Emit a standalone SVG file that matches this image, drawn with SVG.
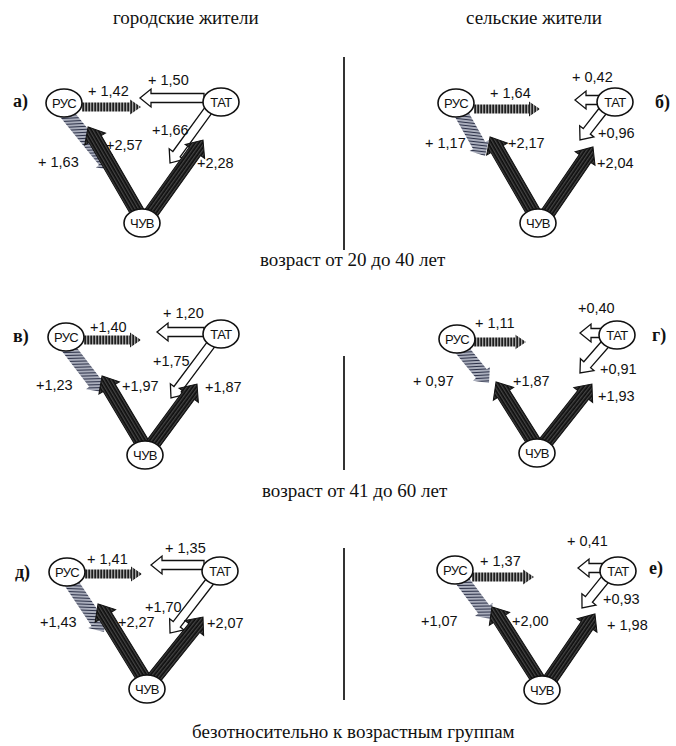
<svg xmlns="http://www.w3.org/2000/svg" width="676" height="746" viewBox="0 0 676 746">
<defs>
<pattern id="pd" patternUnits="userSpaceOnUse" width="4" height="3"><rect width="4" height="3" fill="#4a4a4a"/><line x1="0" y1="1.2" x2="4" y2="1.2" stroke="#0d0d0d" stroke-width="1.8"/></pattern>
<pattern id="pv" patternUnits="userSpaceOnUse" width="3" height="4"><rect width="3" height="4" fill="#b0b0b0"/><line x1="1.2" y1="0" x2="1.2" y2="4" stroke="#1e1e1e" stroke-width="1.8"/></pattern>
<pattern id="ps" patternUnits="userSpaceOnUse" width="6" height="3" patternTransform="rotate(-54)"><rect width="6" height="3" fill="#d4d7e2"/><line x1="0" y1="1.5" x2="6" y2="1.5" stroke="#2c3148" stroke-width="1.5"/></pattern>
</defs>
<style>
.d{fill:url(#pd);stroke:#111;stroke-width:1}
.h{fill:url(#pv);stroke:none}
.s{fill:url(#ps);stroke:none}
.w{fill:#fff;stroke:#111;stroke-width:1.3;stroke-linejoin:miter}
.n ellipse{fill:#fff;stroke:#111;stroke-width:1.6}
.n text{font-family:"Liberation Sans",Arial,sans-serif;font-size:13px;letter-spacing:-0.6px;fill:#111;text-anchor:middle}
.v{font-family:"Liberation Sans",Arial,sans-serif;font-size:14.5px;fill:#111}
.hd{font-family:"Liberation Serif","Times New Roman",serif;font-size:19px;fill:#111}
.pl{font-family:"Liberation Serif","Times New Roman",serif;font-size:18px;font-weight:bold;fill:#111}
.div{stroke:#333;stroke-width:2}
</style>
<rect width="676" height="746" fill="#fff"/>
<text class="hd" x="113" y="24">городские жители</text>
<text class="hd" x="466" y="24">сельские жители</text>
<text class="hd" x="260" y="266">возраст от 20 до 40 лет</text>
<text class="hd" x="262" y="497">возраст от 41 до 60 лет</text>
<text class="hd" x="192" y="738">безотносительно к возрастным группам</text>
<g id="dividers">
<line class="div" x1="344" y1="57" x2="344" y2="250"/>
<line class="div" x1="344" y1="356" x2="344" y2="470"/>
<line class="div" x1="344" y1="548" x2="344" y2="700"/>
</g>
<text class="pl" x="13" y="107">а)</text>
<text class="pl" x="655" y="108">б)</text>
<text class="pl" x="13" y="342">в)</text>
<text class="pl" x="652" y="341">г)</text>
<text class="pl" x="15" y="578">д)</text>
<text class="pl" x="649" y="574">е)</text>
<g id="connectors">
<!-- panel a -->
<polygon class="s" transform="translate(62,108) rotate(51.1)" points="0,-7 67.6,-7 67.6,-11 79.6,0 67.6,11 67.6,7 0,7"/>
<polygon class="w" transform="translate(204,98) rotate(180)" points="0,-4.5 53,-4.5 53,-9 64,0 53,9 53,4.5 0,4.5"/>
<polygon class="w" transform="translate(210,108) rotate(126)" points="0,-4.5 57,-4.5 57,-9 68,0 57,9 57,4.5 0,4.5"/>
<polygon class="h" transform="translate(82,107)" points="0,-4.5 48,-4.5 48,-7.5 59,0 48,7.5 48,4.5 0,4.5"/>
<polygon class="d" transform="translate(142,220) rotate(-120.1)" points="0,-7 93.5,-7 93.5,-12 107.5,0 93.5,12 93.5,7 0,7"/>
<polygon class="d" transform="translate(146,220) rotate(-54.5)" points="0,-7 84.2,-7 84.2,-12 98.2,0 84.2,12 84.2,7 0,7"/>
<text class="v" x="88" y="96">+ 1,42</text>
<text class="v" x="148" y="85">+ 1,50</text>
<text class="v" x="38" y="167">+ 1,63</text>
<text class="v" x="106" y="150">+2,57</text>
<text class="v" x="197" y="168">+2,28</text>
<text class="v" x="152" y="135">+1,66</text>
<!-- panel b -->
<polygon class="s" transform="translate(458,108) rotate(60.6)" points="0,-7 43.1,-7 43.1,-11 55.1,0 43.1,11 43.1,7 0,7"/>
<polygon class="w" transform="translate(608,100) rotate(180)" points="0,-4.5 22,-4.5 22,-9 33,0 22,9 22,4.5 0,4.5"/>
<polygon class="w" transform="translate(605,108) rotate(128)" points="0,-4.5 29.6,-4.5 29.6,-9 40.6,0 29.6,9 29.6,4.5 0,4.5"/>
<polygon class="h" transform="translate(474,109)" points="0,-4.5 55,-4.5 55,-7.5 66,0 55,7.5 55,4.5 0,4.5"/>
<polygon class="d" transform="translate(538,220) rotate(-120)" points="0,-7 81.9,-7 81.9,-12 95.9,0 81.9,12 81.9,7 0,7"/>
<polygon class="d" transform="translate(543,220) rotate(-55.6)" points="0,-7 74.5,-7 74.5,-12 88.5,0 74.5,12 74.5,7 0,7"/>
<text class="v" x="490" y="98">+ 1,64</text>
<text class="v" x="572" y="82">+ 0,42</text>
<text class="v" x="598" y="138">+0,96</text>
<text class="v" x="425" y="148">+ 1,17</text>
<text class="v" x="508" y="148">+2,17</text>
<text class="v" x="597" y="168">+2,04</text>
<!-- panel v -->
<polygon class="s" transform="translate(66,345) rotate(52.5)" points="0,-7 47.2,-7 47.2,-11 59.2,0 47.2,11 47.2,7 0,7"/>
<polygon class="w" transform="translate(204,332) rotate(180)" points="0,-4.5 36,-4.5 36,-9 47,0 36,9 36,4.5 0,4.5"/>
<polygon class="w" transform="translate(212,343) rotate(126.7)" points="0,-4.5 57.6,-4.5 57.6,-9 68.6,0 57.6,9 57.6,4.5 0,4.5"/>
<polygon class="h" transform="translate(84,340)" points="0,-4.5 46,-4.5 46,-7.5 57,0 46,7.5 46,4.5 0,4.5"/>
<polygon class="d" transform="translate(145,448) rotate(-120.8)" points="0,-7 69.9,-7 69.9,-12 83.9,0 69.9,12 69.9,7 0,7"/>
<polygon class="d" transform="translate(150,448) rotate(-53.7)" points="0,-7 65.4,-7 65.4,-12 79.4,0 65.4,12 65.4,7 0,7"/>
<text class="v" x="90" y="332">+1,40</text>
<text class="v" x="163" y="318">+ 1,20</text>
<text class="v" x="36" y="390">+1,23</text>
<text class="v" x="122" y="391">+1,97</text>
<text class="v" x="153" y="366">+1,75</text>
<text class="v" x="205" y="392">+1,87</text>
<!-- panel g -->
<polygon class="s" transform="translate(458,345) rotate(50.8)" points="0,-7 37,-7 37,-11 49,0 37,11 37,7 0,7"/>
<polygon class="w" transform="translate(608,333) rotate(180)" points="0,-4.5 17,-4.5 17,-9 28,0 17,9 17,4.5 0,4.5"/>
<polygon class="w" transform="translate(607,342) rotate(131.1)" points="0,-4.5 30.1,-4.5 30.1,-9 41.1,0 30.1,9 30.1,4.5 0,4.5"/>
<polygon class="h" transform="translate(474,342)" points="0,-4.5 41,-4.5 41,-7.5 52,0 41,7.5 41,4.5 0,4.5"/>
<polygon class="d" transform="translate(537,447) rotate(-122.2)" points="0,-7 62.9,-7 62.9,-12 76.9,0 62.9,12 62.9,7 0,7"/>
<polygon class="d" transform="translate(542,447) rotate(-51.6)" points="0,-7 66.4,-7 66.4,-12 80.4,0 66.4,12 66.4,7 0,7"/>
<text class="v" x="475" y="328">+ 1,11</text>
<text class="v" x="578" y="313">+0,40</text>
<text class="v" x="600" y="374">+0,91</text>
<text class="v" x="413" y="386">+ 0,97</text>
<text class="v" x="513" y="386">+1,87</text>
<text class="v" x="598" y="401">+1,93</text>
<!-- panel d -->
<polygon class="s" transform="translate(68,578) rotate(56.3)" points="0,-7 52.9,-7 52.9,-11 64.9,0 52.9,11 52.9,7 0,7"/>
<polygon class="w" transform="translate(204,565) rotate(180)" points="0,-4.5 42,-4.5 42,-9 53,0 42,9 42,4.5 0,4.5"/>
<polygon class="w" transform="translate(211,580) rotate(127.7)" points="0,-4.5 56,-4.5 56,-9 67,0 56,9 56,4.5 0,4.5"/>
<polygon class="h" transform="translate(85,574)" points="0,-4.5 46,-4.5 46,-7.5 57,0 46,7.5 46,4.5 0,4.5"/>
<polygon class="d" transform="translate(146,682) rotate(-121.6)" points="0,-7 77.6,-7 77.6,-12 91.6,0 77.6,12 77.6,7 0,7"/>
<polygon class="d" transform="translate(151,682) rotate(-51.3)" points="0,-7 69.2,-7 69.2,-12 83.2,0 69.2,12 69.2,7 0,7"/>
<text class="v" x="87" y="564">+ 1,41</text>
<text class="v" x="165" y="553">+ 1,35</text>
<text class="v" x="40" y="627">+1,43</text>
<text class="v" x="118" y="627">+2,27</text>
<text class="v" x="145" y="612">+1,70</text>
<text class="v" x="207" y="628">+2,07</text>
<!-- panel e -->
<polygon class="s" transform="translate(458,575) rotate(53.1)" points="0,-7 43,-7 43,-11 55,0 43,11 43,7 0,7"/>
<polygon class="w" transform="translate(608,568) rotate(180)" points="0,-4.5 19,-4.5 19,-9 30,0 19,9 19,4.5 0,4.5"/>
<polygon class="w" transform="translate(607,577) rotate(128.9)" points="0,-4.5 28.8,-4.5 28.8,-9 39.8,0 28.8,9 28.8,4.5 0,4.5"/>
<polygon class="h" transform="translate(472,577)" points="0,-4.5 51,-4.5 51,-7.5 62,0 51,7.5 51,4.5 0,4.5"/>
<polygon class="d" transform="translate(541,684) rotate(-122.5)" points="0,-7 77.3,-7 77.3,-12 91.3,0 77.3,12 77.3,7 0,7"/>
<polygon class="d" transform="translate(547,684) rotate(-55.6)" points="0,-7 70.9,-7 70.9,-12 84.9,0 70.9,12 70.9,7 0,7"/>
<text class="v" x="480" y="566">+ 1,37</text>
<text class="v" x="567" y="546">+ 0,41</text>
<text class="v" x="603" y="604">+0,93</text>
<text class="v" x="421" y="626">+1,07</text>
<text class="v" x="512" y="626">+2,00</text>
<text class="v" x="607" y="630">+ 1,98</text>
</g>
<g id="a-rus" class="n"><ellipse cx="64" cy="103" rx="18" ry="14"/><text x="64" y="108">РУС</text></g>
<g id="a-tat" class="n"><ellipse cx="221" cy="102" rx="18" ry="14"/><text x="221" y="107">ТАТ</text></g>
<g id="a-chuv" class="n"><ellipse cx="142" cy="223" rx="18" ry="14"/><text x="142" y="228">ЧУВ</text></g>
<g id="b-rus" class="n"><ellipse cx="456" cy="103" rx="18" ry="14"/><text x="456" y="108">РУС</text></g>
<g id="b-tat" class="n"><ellipse cx="615" cy="102" rx="18" ry="14"/><text x="615" y="107">ТАТ</text></g>
<g id="b-chuv" class="n"><ellipse cx="538" cy="223" rx="18" ry="14"/><text x="538" y="228">ЧУВ</text></g>
<g id="v-rus" class="n"><ellipse cx="66" cy="337" rx="18" ry="14"/><text x="66" y="342">РУС</text></g>
<g id="v-tat" class="n"><ellipse cx="221" cy="334" rx="18" ry="14"/><text x="221" y="339">ТАТ</text></g>
<g id="v-chuv" class="n"><ellipse cx="145" cy="455" rx="18" ry="14"/><text x="145" y="460">ЧУВ</text></g>
<g id="g-rus" class="n"><ellipse cx="457" cy="339" rx="18" ry="14"/><text x="457" y="344">РУС</text></g>
<g id="g-tat" class="n"><ellipse cx="617" cy="335" rx="18" ry="14"/><text x="617" y="340">ТАТ</text></g>
<g id="g-chuv" class="n"><ellipse cx="537" cy="453" rx="18" ry="14"/><text x="537" y="458">ЧУВ</text></g>
<g id="d-rus" class="n"><ellipse cx="67" cy="572" rx="18" ry="14"/><text x="67" y="577">РУС</text></g>
<g id="d-tat" class="n"><ellipse cx="220" cy="571" rx="18" ry="14"/><text x="220" y="576">ТАТ</text></g>
<g id="d-chuv" class="n"><ellipse cx="147" cy="689" rx="18" ry="14"/><text x="147" y="694">ЧУВ</text></g>
<g id="e-rus" class="n"><ellipse cx="455" cy="570" rx="18" ry="14"/><text x="455" y="575">РУС</text></g>
<g id="e-tat" class="n"><ellipse cx="618" cy="571" rx="18" ry="14"/><text x="618" y="576">ТАТ</text></g>
<g id="e-chuv" class="n"><ellipse cx="542" cy="690" rx="18" ry="14"/><text x="542" y="695">ЧУВ</text></g>
</svg>
